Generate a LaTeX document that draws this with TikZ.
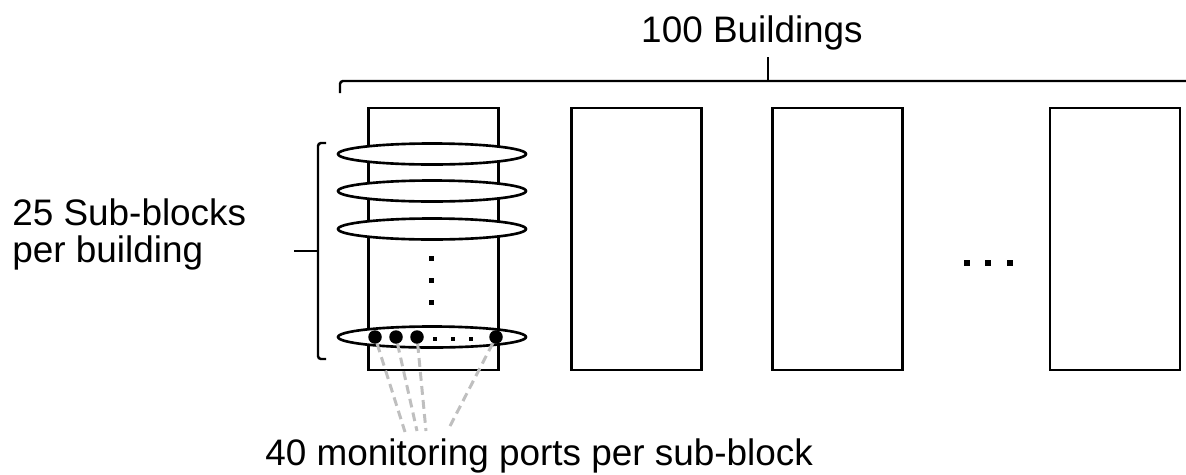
\documentclass[tikz,border=0pt]{standalone}
\usepackage{fontspec}
\setmainfont{Liberation Sans}
\usetikzlibrary{shapes.geometric}
\begin{document}
\begin{tikzpicture}[x=0.02cm,y=-0.02cm,
  building/.style={draw, line width=1.5pt, minimum width=2.6cm, minimum height=5.24cm, inner sep=0pt, outer sep=0pt},
  subblock/.style={draw, ellipse, fill=white, line width=1.5pt, minimum width=3.76cm, minimum height=0.42cm, inner sep=0pt},
  port/.style={circle, fill=black, minimum size=0.27cm, inner sep=0pt},
  dotsq/.style={rectangle, fill=black, minimum size=0.1cm, inner sep=0pt},
  bigdot/.style={rectangle, fill=black, minimum size=0.12cm, inner sep=0pt},
  label/.style={font=\fontsize{21}{25}\selectfont, inner sep=0pt},
  bracket/.style={line width=1.4pt, rounded corners=0.06cm},
  link/.style={draw=black!25, line width=1.7pt, dash pattern=on 5pt off 3pt}]
\useasboundingbox (0,0) rectangle (1186,474);
% buildings
\node[building] (b1) at (433.5,239) {};
\node[building] (b2) at (636.5,239) {};
\node[building] (b3) at (837.5,239) {};
\node[building] (b4) at (1115,239) {};
% top brace
\coordinate (tl) at (340,93);
\coordinate (tr) at (1190,81);
\coordinate (tm) at (768,81);
\coordinate (tt) at (768,57);
\draw[bracket] (tl) |- (tr);
\draw[line width=1.4pt] (tm) -- (tt);
\node[label, anchor=base] (title) at (752,42) {100 Buildings};
% left bracket
\coordinate (lt) at (326,143);
\coordinate (lb) at (326,359);
\coordinate (lc) at (318,251);
\coordinate (lx) at (294,251);
\draw[bracket] (lt) -| (318,251) |- (lb);
\draw[line width=1.4pt] (lc) -- (lx);
\node[label, anchor=base west] (side1) at (12,225) {25 Sub-blocks};
\node[label, anchor=base west] (side2) at (12,262) {per building};
% sub-blocks
\node[subblock] (s1) at (432,154) {};
\node[subblock] (s2) at (432,191) {};
\node[subblock] (s3) at (432,229) {};
\node[subblock] (s4) at (432,337) {};
% vertical dots
\node[dotsq] (v1) at (431,258) {};
\node[dotsq] (v2) at (431,280) {};
\node[dotsq] (v3) at (431,302) {};
% ports
\node[port] (p1) at (375,337) {};
\node[port] (p2) at (396,337) {};
\node[port] (p3) at (417,337) {};
\node[port] (p4) at (496,337) {};
\node[dotsq, minimum size=0.08cm] (h1) at (435,339) {};
\node[dotsq, minimum size=0.08cm] (h2) at (453,339) {};
\node[dotsq, minimum size=0.08cm] (h3) at (471,339) {};
% dashed links
\coordinate (e1) at (405,432);
\coordinate (e2) at (417,431);
\coordinate (e3) at (426,431);
\coordinate (e4) at (449,428);
\draw[link] (p1) -- (e1);
\draw[link] (p2) -- (e2);
\draw[link] (p3) -- (e3);
\draw[link] (p4) -- (e4);
\node[label, anchor=base west] (bottom) at (265,465) {40 monitoring ports per sub-block};
% horizontal dots
\node[bigdot] (d1) at (967,263) {};
\node[bigdot] (d2) at (988,263) {};
\node[bigdot] (d3) at (1010,263) {};
\end{tikzpicture}
\end{document}
